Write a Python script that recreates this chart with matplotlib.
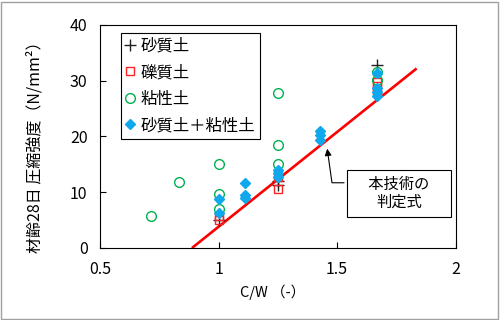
import matplotlib
matplotlib.use('Agg')
import matplotlib.pyplot as plt
from matplotlib.patches import Rectangle

plt.rcParams['font.family'] = ['Noto Sans CJK JP', 'DejaVu Sans']

# C/W values (W/C = 140%, 120%, 100%, 90%, 80%, 70%, 60%)
sand_cw = [1.0, 1.25, 1.25, 1.667]
sand_fc = [5.0, 12.0, 11.3, 32.8]

gravel_cw = [1.0, 1.0, 1.25, 1.25, 1.667, 1.667, 1.667]
gravel_fc = [5.0, 5.8, 12.8, 10.6, 29.8, 29.0, 28.4]

clay_cw = [0.714, 0.833, 1.0, 1.0, 1.0, 1.25, 1.25, 1.25, 1.667, 1.667]
clay_fc = [5.8, 11.8, 15.1, 9.7, 7.0, 27.8, 18.5, 15.1, 31.5, 30.1]

mix_cw = [1.0, 1.0, 1.111, 1.111, 1.111, 1.25, 1.25, 1.25,
          1.429, 1.429, 1.429, 1.667, 1.667, 1.667, 1.667]
mix_fc = [8.7, 6.3, 11.7, 9.5, 8.9, 14.0, 13.4, 12.8,
          21.0, 20.2, 19.3, 31.4, 28.7, 28.0, 27.3]

# judgement line end points
line_cw = [0.888, 1.836]
line_fc = [0.0, 32.2]

labels = ['砂質土', '礫質土', '粘性土', '砂質土＋粘性土']
xticks = [0.5, 1, 1.5, 2]
xticklabels = ['0.5', '1', '1.5', '2']
yticks = [0, 10, 20, 30, 40]

fig = plt.figure(figsize=(5, 3.2), dpi=100)
ax = fig.add_axes([0.2, 0.225, 0.711, 0.697])

ax.plot(line_cw, line_fc, color='#ff0000', lw=1.9, zorder=2, solid_capstyle='butt')
ax.plot(sand_cw, sand_fc, ls='none', marker='+', ms=8, mew=1.0, color='#222222',
        label=labels[0], zorder=3)
ax.plot(gravel_cw, gravel_fc, ls='none', marker='s', ms=5.5, mew=1.0, mfc='none',
        mec='#ff2020', label=labels[1], zorder=3)
ax.plot(clay_cw, clay_fc, ls='none', marker='o', ms=7, mew=1.0, mfc='none',
        mec='#00b050', label=labels[2], zorder=3)
ax.plot(mix_cw, mix_fc, ls='none', marker='D', ms=5.2, color='#10a8ec',
        label=labels[3], zorder=4)

ax.set_xlim(0.5, 2)
ax.set_ylim(0, 40)
ax.set_xticks(xticks)
ax.set_xticklabels(xticklabels)
ax.set_yticks(yticks)
ax.tick_params(direction='in', length=4, width=0.8, labelsize=11.5, pad=9)
for s in ax.spines.values():
    s.set_linewidth(0.8)

ax.set_xlabel('C/W （-）', fontsize=10.5)
ax.xaxis.set_label_coords(0.486, -0.165)
ax.set_ylabel('材齢28日 圧縮強度（N/mm²）', fontsize=11.5)
ax.yaxis.set_label_coords(-0.16, 0.47)

leg = ax.legend(loc='upper left', bbox_to_anchor=(0.058, 0.965), borderaxespad=0,
                fontsize=11.8, numpoints=1, handlelength=0.6, handletextpad=0.3,
                labelspacing=0.58, borderpad=0.3, fancybox=False, framealpha=1,
                edgecolor='black')
leg.get_frame().set_linewidth(0.8)

ax.annotate('　本技術の　\n判定式', xy=(1.457, 18.3), xytext=(1.762, 9.8),
            fontsize=11, ha='center', va='center', multialignment='center',
            linespacing=1.1,
            bbox=dict(boxstyle='square,pad=0.4', fc='white', ec='black', lw=0.8),
            arrowprops=dict(arrowstyle='-|>', color='black', lw=0.8,
                            mutation_scale=10, relpos=(0, 0.8),
                            connectionstyle='angle,angleA=0,angleB=98,rad=0'))

fig.patches.append(Rectangle((0.002, 0.003), 0.994, 0.992, transform=fig.transFigure,
                             fill=False, edgecolor='#a0a0a0', lw=1))

fig.savefig('out.png', dpi=100)
